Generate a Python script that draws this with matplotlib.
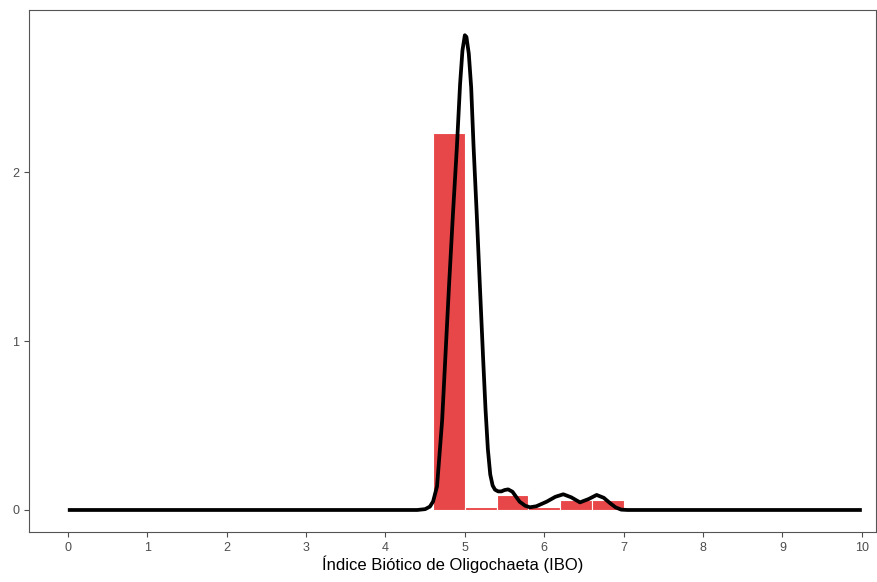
import numpy as np
import matplotlib
matplotlib.use("Agg")
import matplotlib.pyplot as plt

plt.rcParams['font.family'] = ['Liberation Sans', 'DejaVu Sans']

# histogram bins (density scale), width 0.4
bin_left = [4.6, 5.0, 5.4, 5.8, 6.2, 6.6]
bin_height = [2.23, 0.015, 0.087, 0.015, 0.06, 0.06]
bin_width = 0.4

# density curve
dens_x = [0.0, 4.40, 4.50, 4.56, 4.60, 4.65, 4.714, 4.80, 4.85, 4.90, 4.94, 4.97, 5.00, 5.02,
          5.05, 5.08, 5.11, 5.15, 5.19, 5.23, 5.26, 5.29, 5.32, 5.35, 5.38, 5.42, 5.46, 5.50,
          5.545, 5.60, 5.65, 5.69, 5.76, 5.82, 5.90, 6.03, 6.14, 6.24, 6.34, 6.45, 6.56,
          6.66, 6.75, 6.83, 6.90, 6.97, 7.05, 10.0]
dens_y = [0.0, 0.0, 0.005, 0.02, 0.05, 0.14, 0.53, 1.32, 1.75, 2.15, 2.52, 2.72, 2.81, 2.80,
          2.70, 2.50, 2.15, 1.75, 1.32, 0.90, 0.60, 0.36, 0.21, 0.145, 0.12, 0.11, 0.11, 0.118,
          0.122, 0.108, 0.075, 0.049, 0.025, 0.016, 0.022, 0.049, 0.078, 0.093, 0.075, 0.045, 0.065,
          0.089, 0.072, 0.040, 0.015, 0.002, 0.0, 0.0]

xticks = list(range(0, 11))
yticks = [0, 1, 2]

fig = plt.figure(figsize=(8.77, 5.82), dpi=100)
ax = fig.add_axes([0.033, 0.086, 0.966, 0.897])

ax.bar(bin_left, bin_height, width=bin_width, align='edge',
       color='#E8474A', edgecolor='white', linewidth=0.8, zorder=2)
ax.plot(dens_x, dens_y, color='black', lw=2.7, solid_capstyle='butt',
        solid_joinstyle='round', zorder=3)

ax.set_xlim(-0.49, 10.18)
ax.set_ylim(-0.13, 2.96)
ax.set_xticks(xticks)
ax.set_yticks(yticks)
ax.tick_params(colors='#4D4D4D', labelsize=9, length=3.5, width=0.8)
for s in ax.spines.values():
    s.set_color('#555555')
    s.set_linewidth(0.8)

ax.set_xlabel('Índice Biótico de Oligochaeta (IBO)', fontsize=12, labelpad=1)

fig.savefig('out.png', dpi=100)
